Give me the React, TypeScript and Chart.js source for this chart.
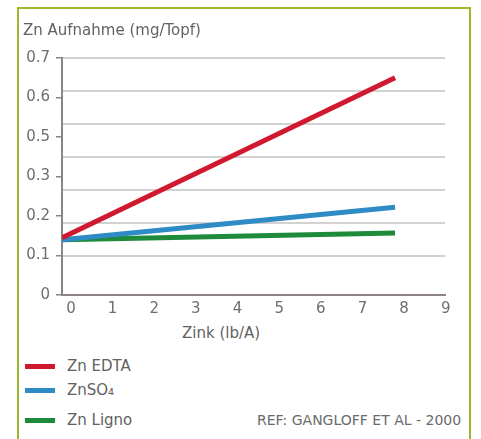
import React, { useEffect, useRef } from 'react';
import { Chart, registerables, LinearScale } from 'chart.js';

Chart.register(...registerables);

// ---- data ----
const X_VALUES = [0, 8];
const ZN_EDTA = [0.145, 0.65];
const ZN_SO4 = [0.14, 0.222];
const ZN_LIGNO = [0.14, 0.157];
const SERIES_NAMES = ['Zn EDTA', 'ZnSO\u2084', 'Zn Ligno'];
const X_TICKS = [0, 1, 2, 3, 4, 5, 6, 7, 8, 9];
const Y_TICKS = [0, 0.1, 0.2, 0.3, 0.5, 0.6, 0.7];
const Y_TICK_LABELS = ['0', '0.1', '0.2', '0.3', '0.5', '0.6', '0.7'];
const TITLE = 'Zn Aufnahme (mg/Topf)';
const X_TITLE = 'Zink (lb/A)';
const REF_TEXT = 'REF: GANGLOFF ET AL - 2000';

// ---- styles ----
const FONT = '"DejaVu Sans", sans-serif';
const COLORS = ['#d0182f', '#2f8bc6', '#1e8b3b'];
const AXIS_COLOR = '#8c8480';
const GRID_COLOR = '#d2d2d2';
const TEXT_COLOR = '#6e6e6e';

// The y axis of the original places its labels at equal steps even though
// 0.4 is skipped; this scale maps values piecewise between the labelled ticks.
function valueToSlot(v: number): number {
  const n = Y_TICKS.length;
  if (v <= Y_TICKS[0]) return (v - Y_TICKS[0]) / (Y_TICKS[1] - Y_TICKS[0]);
  for (let i = 0; i < n - 1; i++) {
    if (v <= Y_TICKS[i + 1]) return i + (v - Y_TICKS[i]) / (Y_TICKS[i + 1] - Y_TICKS[i]);
  }
  return n - 1 + (v - Y_TICKS[n - 1]) / (Y_TICKS[n - 1] - Y_TICKS[n - 2]);
}
function slotToValue(s: number): number {
  const n = Y_TICKS.length;
  const i = Math.max(0, Math.min(n - 2, Math.floor(s)));
  return Y_TICKS[i] + (s - i) * (Y_TICKS[i + 1] - Y_TICKS[i]);
}

class LabelledScale extends LinearScale {
  static id = 'labelled';
  static defaults = LinearScale.defaults;
  buildTicks() {
    return Y_TICKS.map((value) => ({ value }));
  }
  getPixelForValue(value: any) {
    if (value === null || value === undefined || Number.isNaN(value)) return NaN;
    return this.getPixelForDecimal(valueToSlot(value) / (Y_TICKS.length - 1));
  }
  getValueForPixel(pixel: number) {
    return slotToValue(this.getDecimalForPixel(pixel) * (Y_TICKS.length - 1));
  }
}
Chart.register(LabelledScale as any);

const SERIES = [ZN_EDTA, ZN_SO4, ZN_LIGNO];

export default function App() {
  const canvasRef = useRef<HTMLCanvasElement | null>(null);

  useEffect(() => {
    if (!canvasRef.current) return;
    Chart.defaults.font.family = FONT;
    const chart = new Chart(canvasRef.current, {
      type: 'line',
      data: {
        datasets: SERIES.map((vals, si) => ({
          label: SERIES_NAMES[si],
          data: X_VALUES.map((x, i) => ({ x, y: vals[i] })),
          borderColor: COLORS[si],
          backgroundColor: COLORS[si],
          borderWidth: 5,
          borderCapStyle: 'butt',
          pointRadius: 0,
          fill: false,
          tension: 0,
          yAxisID: 'y',
          xAxisID: 'x',
        })),
      },
      options: {
        responsive: false,
        animation: false,
        layout: { padding: { left: 23, right: 25, top: 0, bottom: 0 } },
        plugins: {
          legend: { display: false },
          tooltip: { enabled: false },
          title: {
            display: true,
            text: TITLE,
            align: 'start',
            color: '#626262',
            font: { size: 15, weight: 'normal', family: FONT },
            padding: { top: 22, bottom: 18 },
          },
        },
        scales: {
          x: {
            type: 'linear',
            min: 0,
            max: 9.2,
            afterBuildTicks: (s: any) => {
              s.ticks = X_TICKS.map((value) => ({ value }));
            },
            grid: { display: false, drawTicks: false },
            border: { display: true, color: AXIS_COLOR, width: 2 },
            ticks: {
              color: TEXT_COLOR,
              font: { size: 15, family: FONT },
              padding: 5,
              labelOffset: 9,
              autoSkip: false,
              maxRotation: 0,
              callback: (v: any) => String(v),
            },
            afterFit: (s: any) => {
              s.height = 25;
            },
          },
          y: {
            type: 'labelled' as any,
            position: 'left',
            min: 0,
            max: 0.7,
            grid: {
              drawOnChartArea: false,
              drawTicks: true,
              tickLength: 6,
              color: AXIS_COLOR,
              lineWidth: 1.5,
            },
            border: { display: true, color: AXIS_COLOR, width: 2 },
            ticks: {
              autoSkip: false,
              color: TEXT_COLOR,
              font: { size: 15, family: FONT },
              padding: 6,
              callback: (_v: any, i: number) => Y_TICK_LABELS[i],
            },
            afterFit: (s: any) => {
              s.width = 39;
            },
          },
          grid: {
            type: 'linear',
            position: 'right',
            min: -1.2,
            max: 6,
            afterBuildTicks: (s: any) => {
              s.ticks = s.ticks.filter((t: any) => t.value >= 0);
            },
            ticks: { display: false, stepSize: 1 },
            grid: { drawTicks: false, color: GRID_COLOR, lineWidth: 2 },
            border: { display: false },
            afterFit: (s: any) => {
              s.width = 0;
            },
          },
        },
      } as any,
    });
    return () => chart.destroy();
  }, []);

  const legendY = [366, 390, 420];

  return (
    <div
      style={{
        position: 'fixed',
        left: 0,
        top: 0,
        width: 481,
        height: 439,
        overflow: 'hidden',
        background: '#ffffff',
        fontFamily: FONT,
      }}
    >
      <div
        style={{
          position: 'absolute',
          left: 17,
          top: 7,
          width: 454,
          height: 460,
          border: '2px solid #9cb92e',
          boxSizing: 'border-box',
        }}
      />
      <canvas
        ref={canvasRef}
        width={470}
        height={320}
        style={{ position: 'absolute', left: 0, top: 0, width: 470, height: 320 }}
      />
      <div
        style={{
          position: 'absolute',
          left: 182,
          top: 324,
          fontSize: 15,
          lineHeight: '18px',
          color: '#626262',
          whiteSpace: 'nowrap',
        }}
      >
        {X_TITLE}
      </div>
      {SERIES_NAMES.map((name, i) => (
        <React.Fragment key={name}>
          <div
            style={{
              position: 'absolute',
              left: 25,
              top: legendY[i] - 2.5,
              width: 30,
              height: 5,
              background: COLORS[i],
            }}
          />
          <div
            style={{
              position: 'absolute',
              left: 67,
              top: legendY[i] - 9,
              fontSize: 15,
              lineHeight: '18px',
              color: '#626262',
              whiteSpace: 'nowrap',
            }}
          >
            {name}
          </div>
        </React.Fragment>
      ))}
      <div
        style={{
          position: 'absolute',
          left: 257,
          top: 412,
          fontSize: 14,
          lineHeight: '17px',
          color: '#6a6a6a',
          whiteSpace: 'nowrap',
        }}
      >
        {REF_TEXT}
      </div>
    </div>
  );
}
